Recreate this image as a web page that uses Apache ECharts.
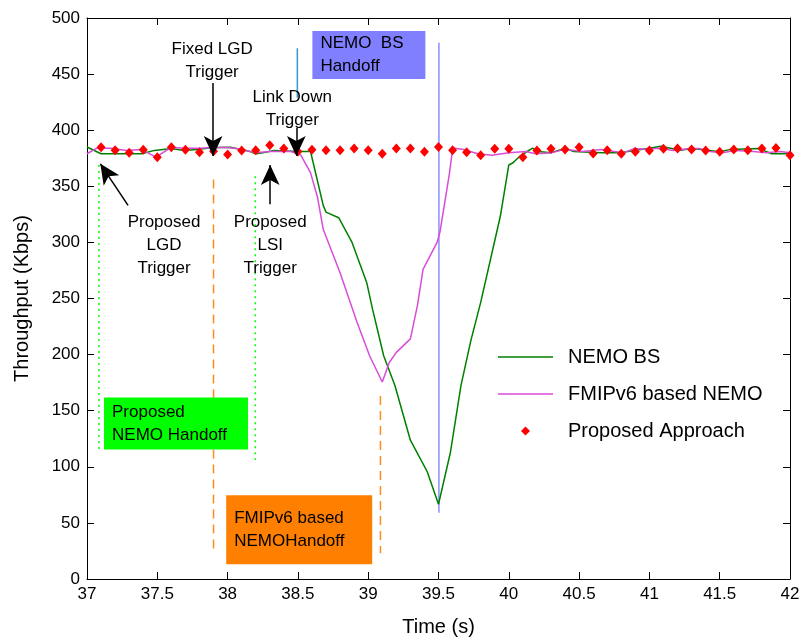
<!DOCTYPE html>
<html><head><meta charset="utf-8">
<script src="https://cdn.jsdelivr.net/npm/echarts@6/dist/echarts.min.js"></script>
<style>html,body{margin:0;padding:0;background:#fff}#c{width:803px;height:642px}</style>
</head><body><div id="c"></div>
<script>
// ---- data ----
const nemoT = [37.0,37.1,37.2,37.3,37.39,37.48,37.6,37.69,37.78,37.9,38.02,38.09,38.16,38.2,38.25,38.33,38.5,38.59,38.62,38.68,38.70,38.79,38.885,38.99,39.03,39.11,39.19,39.3,39.395,39.42,39.5,39.585,39.66,39.73,39.8,39.87,39.94,40.0,40.03,40.08,40.13,40.17,40.21,40.3,40.38,40.41,40.46,40.66,40.79,40.89,41.0,41.08,41.16,41.21,41.3,41.37,41.5,41.57,41.78,41.87,41.96,42.0];
const nemoV = [385,379,379,379,379,382,383.6,382,382.7,384.5,384.8,383,381,379,380,382,381,381,365,333,327,322,300,264,241,199,172.5,123.7,101.5,95.6,66.6,113,172.5,212.5,246.6,285,323.5,369,371,377,381,384,381,380,383,383.6,381,380,380,382,384,385.7,383.6,382,383.6,382.7,380.7,382.7,383.6,379,379,380];
const fmipT = [37.0,37.07,37.17,37.28,37.39,37.49,37.6,37.69,37.8,37.9,38.0,38.1,38.19,38.3,38.45,38.52,38.59,38.64,38.68,38.8,38.92,39.01,39.1,39.15,39.2,39.3,39.35,39.39,39.49,39.51,39.576,39.597,39.61,39.67,39.78,39.88,40.0,40.12,40.19,40.31,40.4,40.52,40.66,40.75,40.82,40.89,40.97,41.07,41.17,41.29,41.36,41.43,41.52,41.61,41.74,41.83,41.93,42.0];
const fmipV = [379,384,384,382,382.7,376,384.8,384,384,384.5,384.5,383,380,381,381,378,362,340,311.7,273,229,199,175.6,193,202,214,243.6,276,300,309,360,380,384,383,379,377.7,380,381,379,380,383,381,382.7,381,380,383.6,383,384,382,383.6,383.6,381,380,382,381,380,381,380];
const propT = [37.1,37.2,37.3,37.4,37.5,37.6,37.7,37.8,37.9,38.0,38.1,38.2,38.3,38.4,38.5,38.6,38.7,38.8,38.9,39.0,39.1,39.2,39.3,39.4,39.5,39.6,39.7,39.8,39.9,40.0,40.1,40.2,40.3,40.4,40.5,40.6,40.7,40.8,40.9,41.0,41.1,41.2,41.3,41.4,41.5,41.6,41.7,41.8,41.9,42.0];
const propV = [384.8,382.1,379.8,382.5,375.9,384.8,382.5,380.3,381.2,378.3,381.8,382.1,386.5,383.6,381,382.5,382.1,382.1,383.6,382.1,378.9,383.6,383.6,380.7,385.1,382.1,380.3,377.7,383.4,383.4,375.9,381.8,383.4,382.7,384.8,379.2,382.1,378.9,380.7,381.8,383.4,383.6,382.7,381.8,380.7,382.7,382.1,383.6,384.2,377.7];
const seriesNames = ['NEMO BS','FMIPv6 based NEMO','Proposed Approach'];
const xTicks = {min:37, max:42, step:0.5};
const yTicks = {min:0, max:500, step:50};

// annotation geometry in data units (time, throughput)
const lgdMarker = [[37.085,369],[37.085,114]];
const lsiMarker = [[38.197,359],[38.197,106]];
const fixedMarker = [[37.9,356],[37.9,23]];
const fmipMarker = [[39.087,163],[39.087,23]];
const bsMarker = [[39.503,478],[39.503,59]];
const bsTick = [[38.496,473],[38.496,429]];
const arrows = [
  [[37.897,442],[37.897,377]],
  [[38.489,402],[38.489,377]],
  [[37.292,333],[37.095,370]],
  [[38.303,334],[38.303,369]]
];
const notes = [
  {text:'Fixed LGD\nTrigger', at:[37.89,462]},
  {text:'Link Down\nTrigger', at:[38.46,419]},
  {text:'Proposed\nLGD\nTrigger', at:[37.548,297.5]},
  {text:'Proposed\nLSI\nTrigger', at:[38.303,297.5]}
];
const boxes = [
  {text:'NEMO  BS\nHandoff', at:[38.603,467]},
  {text:'Proposed\nNEMO Handoff', at:[37.121,138.5]},
  {text:'FMIPv6 based\nNEMOHandoff', at:[37.99,44]}
];

const zip = (a,b) => a.map((v,i)=>[v,b[i]]);
const FONT = "'Liberation Sans', Arial, sans-serif";
const chart = echarts.init(document.getElementById('c'), null, {renderer:'canvas'});

function vline(data, color, type){
  return {type:'line', data, symbol:'none', silent:true, z:1,
    lineStyle:{color, width:1.5, type}, animation:false};
}
const boxStyles = [
  {bg:'#7f7fff', pad:[3,8], w:97, h:42},
  {bg:'#00ff00', pad:[4,8], w:128, h:44},
  {bg:'#ff8000', pad:[6,8], w:130, h:57}
];
const lineIcon = 'path://M0,0 L110,0 L110,3 L0,3 Z';
const diamondIcon = 'path://M5,0 L10,5 L5,10 L0,5 Z';

const baseX = {type:'value', min:xTicks.min, max:xTicks.max, interval:xTicks.step, splitLine:{show:false}};
const baseY = {type:'value', min:yTicks.min, max:yTicks.max, interval:yTicks.step, splitLine:{show:false}};

chart.setOption({
  animation:false,
  backgroundColor:'#fff',
  grid:{left:87, right:13, top:18, bottom:61, containLabel:false},
  xAxis:[
    Object.assign({}, baseX, {position:'bottom',
      axisLine:{onZero:false, lineStyle:{color:'#000', width:1}},
      axisTick:{inside:true, length:7, lineStyle:{color:'#000'}},
      axisLabel:{color:'#000', fontSize:17, fontFamily:FONT, margin:7},
      name:'Time (s)', nameLocation:'middle', nameGap:38,
      nameTextStyle:{color:'#000', fontSize:20, fontFamily:FONT}}),
    Object.assign({}, baseX, {position:'top',
      axisLine:{onZero:false, lineStyle:{color:'#000', width:1}},
      axisTick:{inside:true, length:7, lineStyle:{color:'#000'}},
      axisLabel:{show:false}})
  ],
  yAxis:[
    Object.assign({}, baseY, {position:'left',
      axisLine:{onZero:false, show:true, lineStyle:{color:'#000', width:1}},
      axisTick:{show:true, inside:true, length:7, lineStyle:{color:'#000'}},
      axisLabel:{color:'#000', fontSize:17, fontFamily:FONT, margin:7},
      name:'Throughput (Kbps)', nameLocation:'middle', nameGap:55,
      nameTextStyle:{color:'#000', fontSize:20, fontFamily:FONT}}),
    Object.assign({}, baseY, {position:'right',
      axisLine:{onZero:false, show:true, lineStyle:{color:'#000', width:1}},
      axisTick:{show:true, inside:true, length:7, lineStyle:{color:'#000'}},
      axisLabel:{show:false}})
  ],
  legend:{
    data:[
      {name:seriesNames[0], icon:lineIcon},
      {name:seriesNames[1], icon:lineIcon},
      {name:seriesNames[2], icon:diamondIcon}
    ],
    orient:'vertical', left:498, top:347, padding:0,
    itemWidth:55, itemHeight:9, itemGap:17, symbolKeepAspect:true,
    textStyle:{color:'#000', fontSize:20, fontFamily:FONT, padding:[0,0,0,10]}
  },
  series:[
    vline(lgdMarker, '#00ff00', [2,4]),
    vline(lsiMarker, '#00ff00', [2,4]),
    vline(fixedMarker, '#ff8c1a', [9,6]),
    vline(fmipMarker, '#ff8c1a', [9,6]),
    vline(bsMarker, '#8c8cff', 'solid'),
    vline(bsTick, '#3399cc', 'solid'),
    {name:seriesNames[0], type:'line', data:zip(nemoT,nemoV), symbol:'none', z:3,
      lineStyle:{color:'#008000', width:1.5}, itemStyle:{color:'#008000'}},
    {name:seriesNames[1], type:'line', data:zip(fmipT,fmipV), symbol:'none', z:3,
      lineStyle:{color:'#d94cd9', width:1.5}, itemStyle:{color:'#d94cd9'}},
    {name:seriesNames[2], type:'scatter', data:zip(propT,propV), symbol:'diamond', symbolSize:[9,10], z:4,
      itemStyle:{color:'#ff0000', opacity:1}},
    {type:'scatter', data:notes.map(n=>({name:n.text, value:n.at})), symbolSize:0, silent:true, z:6,
      itemStyle:{opacity:1},
      label:{show:true, position:'inside', formatter:'{b}', color:'#000', fontSize:17, fontFamily:FONT,
        lineHeight:23, align:'center', verticalAlign:'middle'},
      markLine:{silent:true, symbol:['none','arrow'], symbolSize:[14,20], label:{show:false},
        lineStyle:{color:'#000', width:1.5, type:'solid'}, emphasis:{disabled:true},
        data:arrows.map(a=>[{coord:a[0]},{coord:a[1]}])}},
    {type:'scatter', symbolSize:0, silent:true, z:5,
      itemStyle:{opacity:1},
      data:boxes.map((b,i)=>({name:b.text, value:b.at, label:{backgroundColor:boxStyles[i].bg,
        padding:boxStyles[i].pad, width:boxStyles[i].w, height:boxStyles[i].h}})),
      label:{show:true, position:'inside', formatter:'{b}', color:'#000', fontSize:17, fontFamily:FONT,
        lineHeight:23, align:'left', verticalAlign:'middle'}}
  ]
});
</script></body></html>
